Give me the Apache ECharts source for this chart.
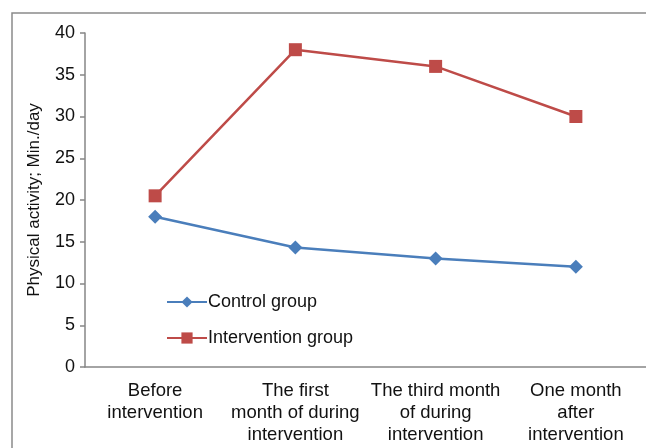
<!DOCTYPE html>
<html><head><meta charset="utf-8">
<script src="https://cdn.jsdelivr.net/npm/echarts@6/dist/echarts.min.js"></script>
<style>html,body{margin:0;padding:0;background:#fff}#c{width:646px;height:448px}</style>
</head><body><div id="c"></div>
<script>
const categories = ["Before\nintervention", "The first\nmonth of during\nintervention", "The third month\nof during\nintervention", "One month\nafter\nintervention"];
const controlValues = [18, 14.3, 13, 12];
const interventionValues = [20.5, 38, 36, 30];
const yTicks = [0, 5, 10, 15, 20, 25, 30, 35, 40];

const chart = echarts.init(document.getElementById('c'), null, {renderer: 'canvas'});
const font = '"Liberation Sans", Arial, sans-serif';
chart.setOption({
  animation: false,
  backgroundColor: '#fff',
  textStyle: {fontFamily: font},
  graphic: [{type: 'rect', shape: {x: 12, y: 13, width: 700, height: 500}, style: {fill: 'none', stroke: '#8a8a8a', lineWidth: 1.5}, z: -1}],
  grid: {left: 85, right: -3, top: 33, bottom: 81, containLabel: false},
  legend: {
    orient: 'vertical', left: 161, top: 288, itemWidth: 40, itemHeight: 14, itemGap: 18,
    textStyle: {fontSize: 18, color: '#111', fontFamily: font, padding: [0, 0, 0, -4]},
    data: ['Control group', 'Intervention group']
  },
  xAxis: {
    type: 'category', data: categories, boundaryGap: true,
    axisLine: {lineStyle: {color: '#868686', width: 1.5}},
    axisTick: {alignWithLabel: true, length: 5, lineStyle: {color: '#868686', width: 1.5}},
    axisLabel: {fontSize: 18.5, color: '#111', lineHeight: 22, margin: 13, fontFamily: font, interval: 0}
  },
  yAxis: {
    type: 'value', min: yTicks[0], max: yTicks[yTicks.length - 1], interval: 5,
    name: 'Physical activity; Min./day', nameLocation: 'middle', nameGap: 42, nameRotate: 90,
    nameTextStyle: {fontSize: 17, color: '#111', fontFamily: font},
    splitLine: {show: false},
    axisLine: {show: true, lineStyle: {color: '#868686', width: 1.5}},
    axisTick: {show: true, length: 5, lineStyle: {color: '#868686', width: 1.5}},
    axisLabel: {fontSize: 18, color: '#111', margin: 10, fontFamily: font}
  },
  series: [
    {name: 'Control group', type: 'line', data: controlValues, symbol: 'diamond', symbolSize: 14,
     itemStyle: {color: '#4A7EBB'}, lineStyle: {color: '#4A7EBB', width: 2.5}},
    {name: 'Intervention group', type: 'line', data: interventionValues, symbol: 'rect', symbolSize: 13,
     itemStyle: {color: '#BE4B48'}, lineStyle: {color: '#BE4B48', width: 2.5}}
  ]
});
</script></body></html>
